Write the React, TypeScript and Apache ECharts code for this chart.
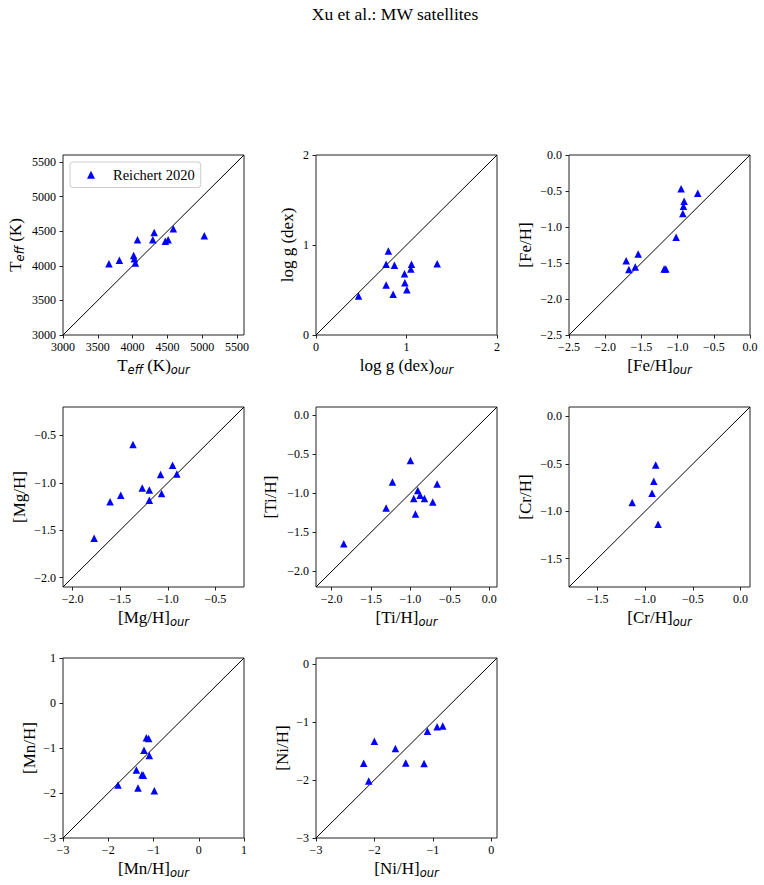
import React, { useEffect, useRef } from "react";
import * as echarts from "echarts";

const TITLE = "Xu et al.: MW satellites";
const LEGEND_NAME = "Reichert 2020";

// Effective temperature (K): our values vs. Reichert 2020
const teffOur = [3660, 3810, 4015, 4025, 4040, 4070, 4290, 4310, 4470, 4510, 4585, 5030];
const teffRef = [4030, 4080, 4150, 4100, 4040, 4375, 4375, 4480, 4355, 4375, 4535, 4435];
const teffTicks = [3000, 3500, 4000, 4500, 5000, 5500];

// Surface gravity log g (dex)
const loggOur = [0.47, 0.8, 0.775, 0.867, 0.775, 0.852, 0.978, 0.982, 1.004, 1.055, 1.048, 1.339];
const loggRef = [0.433, 0.933, 0.785, 0.774, 0.556, 0.452, 0.681, 0.581, 0.504, 0.785, 0.733, 0.793];
const loggTicks = [0, 1, 2];

// [Fe/H]
const feOur = [-0.951, -0.722, -0.91, -0.919, -0.928, -1.02, -1.544, -1.71, -1.585, -1.673, -1.186, -1.163];
const feRef = [-0.469, -0.53, -0.641, -0.711, -0.813, -1.143, -1.375, -1.468, -1.557, -1.589, -1.585, -1.585];
const feTicks = [-2.5, -2.0, -1.5, -1.0, -0.5, 0.0];

// [Mg/H]
const mgOur = [-1.773, -1.606, -1.494, -1.365, -1.268, -1.194, -1.194, -1.076, -1.065, -0.95, -0.905];
const mgRef = [-1.586, -1.201, -1.131, -0.595, -1.054, -1.075, -1.183, -0.913, -1.113, -0.815, -0.906];
const mgTicks = [-2.0, -1.5, -1.0, -0.5];

// [Ti/H]
const tiOur = [-1.847, -1.309, -1.229, -1.0, -0.958, -0.936, -0.907, -0.877, -0.822, -0.716, -0.661];
const tiRef = [-1.646, -1.19, -0.857, -0.584, -1.07, -1.266, -0.968, -1.028, -1.07, -1.113, -0.883];
const tiTicks = [-2.0, -1.5, -1.0, -0.5, 0.0];

// [Cr/H]
const crOur = [-1.137, -0.928, -0.91, -0.89, -0.865];
const crRef = [-0.908, -0.81, -0.683, -0.511, -1.137];
const crTicks = [-1.5, -1.0, -0.5, 0.0];

// [Mn/H]
const mnOur = [-1.785, -1.379, -1.343, -1.254, -1.225, -1.21, -1.158, -1.107, -1.092, -0.982];
const mnRef = [-1.823, -1.488, -1.89, -1.592, -1.607, -1.048, -0.773, -0.788, -1.168, -1.95];
const mnTicks = [-3, -2, -1, 0, 1];

// [Ni/H]
const niOur = [-2.183, -2.097, -2.0, -1.64, -1.463, -1.149, -1.091, -0.926, -0.829];
const niRef = [-1.713, -2.017, -1.333, -1.46, -1.707, -1.718, -1.161, -1.086, -1.069];
const niTicks = [-3, -2, -1, 0];

const panels = [
  { our: teffOur, ref: teffRef, min: 3000, max: 5600, ticks: teffTicks, dec: 0, label: "T{sub|eff} (K)", yGap: 37 },
  { our: loggOur, ref: loggRef, min: 0, max: 2, ticks: loggTicks, dec: 0, label: "log g (dex)", yGap: 18 },
  { our: feOur, ref: feRef, min: -2.5, max: 0, ticks: feTicks, dec: 1, label: "[Fe/H]", yGap: 33 },
  { our: mgOur, ref: mgRef, min: -2.1, max: -0.2, ticks: mgTicks, dec: 1, label: "[Mg/H]", yGap: 33 },
  { our: tiOur, ref: tiRef, min: -2.2, max: 0.1, ticks: tiTicks, dec: 1, label: "[Ti/H]", yGap: 35 },
  { our: crOur, ref: crRef, min: -1.8, max: 0.1, ticks: crTicks, dec: 1, label: "[Cr/H]", yGap: 33 },
  { our: mnOur, ref: mnRef, min: -3, max: 1, ticks: mnTicks, dec: 0, label: "[Mn/H]", yGap: 23 },
  { our: niOur, ref: niRef, min: -3, max: 0.1, ticks: niTicks, dec: 0, label: "[Ni/H]", yGap: 23 },
];

const SERIF = "Liberation Serif";
const INK = "#000";
const FRAME = "#222";
const COL_LEFT = [63, 316, 569];
const ROW_TOP = [155, 407, 658];
const PANEL_W = 181;
const PANEL_H = 180;

const nameStyle = {
  fontFamily: SERIF,
  fontSize: 17,
  color: INK,
  lineHeight: 22,
  rich: {
    sub: {
      fontFamily: "DejaVu Sans",
      fontStyle: "italic",
      fontSize: 11.5,
      lineHeight: 12,
      color: INK,
      verticalAlign: "bottom",
    },
  },
};

const tickFormatter = (dec: number) => (v: number) =>
  (dec > 0 ? v.toFixed(dec) : String(Math.round(v))).replace("-", "\u2212");

export default function App() {
  const ref = useRef<HTMLDivElement>(null);

  useEffect(() => {
    if (!ref.current) return;
    const chart = echarts.init(ref.current, undefined, { renderer: "svg" });

    const grid = panels.map((_, i) => ({
      left: COL_LEFT[i % 3],
      top: ROW_TOP[Math.floor(i / 3)],
      width: PANEL_W,
      height: PANEL_H,
      show: true,
      borderColor: FRAME,
      borderWidth: 1,
      backgroundColor: "transparent",
    }));

    const axisCommon = (p: (typeof panels)[number], i: number) => ({
      type: "value",
      gridIndex: i,
      min: p.min,
      max: p.max,
      axisLine: { show: false, onZero: false },
      splitLine: { show: false },
      axisTick: {
        show: true,
        inside: false,
        length: 3.5,
        lineStyle: { color: FRAME, width: 1 },
        customValues: p.ticks,
      },
      axisLabel: {
        customValues: p.ticks,
        formatter: tickFormatter(p.dec),
        fontFamily: SERIF,
        fontSize: 12,
        color: INK,
      },
      nameLocation: "middle",
      nameMoveOverlap: false,
      nameTextStyle: nameStyle,
    });

    const xAxis = panels.map((p, i) => {
      const a: any = axisCommon(p, i);
      a.position = "bottom";
      a.name = p.label + "{sub|our}";
      a.nameGap = 19;
      a.axisLabel = { ...a.axisLabel, margin: 6 };
      return a;
    });

    const yAxis = panels.map((p, i) => {
      const a: any = axisCommon(p, i);
      a.position = "left";
      a.name = p.label;
      a.nameGap = p.yGap;
      a.axisLabel = { ...a.axisLabel, margin: 7 };
      return a;
    });

    const series: any[] = [];
    panels.forEach((p, i) => {
      series.push({
        type: "line",
        xAxisIndex: i,
        yAxisIndex: i,
        data: [
          [p.min, p.min],
          [p.max, p.max],
        ],
        symbol: "none",
        lineStyle: { color: INK, width: 1 },
        silent: true,
        z: 1,
      });
      series.push({
        type: "scatter",
        name: LEGEND_NAME,
        xAxisIndex: i,
        yAxisIndex: i,
        data: p.our.map((v, k) => [v, p.ref[k]]),
        symbol: "triangle",
        symbolSize: 7.5,
        itemStyle: { color: "#0000ff", opacity: 1 },
        z: 2,
      });
    });

    chart.setOption({
      animation: false,
      backgroundColor: "#fff",
      grid,
      xAxis,
      yAxis,
      series,
      legend: {
        data: [{ name: LEGEND_NAME, icon: "triangle" }],
        left: 70,
        top: 162,
        orient: "vertical",
        padding: [5, 6, 5, 17],
        itemWidth: 8,
        itemHeight: 8,
        selectedMode: false,
        borderColor: "#ccc",
        borderWidth: 1,
        borderRadius: 3,
        backgroundColor: "rgba(255,255,255,0.8)",
        itemStyle: { opacity: 1 },
        textStyle: {
          fontFamily: SERIF,
          fontSize: 14.5,
          color: INK,
          lineHeight: 15.5,
          padding: [0, 0, 0, 13],
        },
        z: 10,
      },
      graphic: [
        {
          type: "text",
          x: 395,
          y: 14,
          style: {
            text: TITLE,
            font: "17.5px 'Liberation Serif'",
            fill: INK,
            textAlign: "center",
            textVerticalAlign: "middle",
          },
        },
      ],
    });

    return () => chart.dispose();
  }, []);

  return (
    <div
      ref={ref}
      style={{ position: "absolute", left: 0, top: 0, width: 764, height: 885 }}
    />
  );
}
